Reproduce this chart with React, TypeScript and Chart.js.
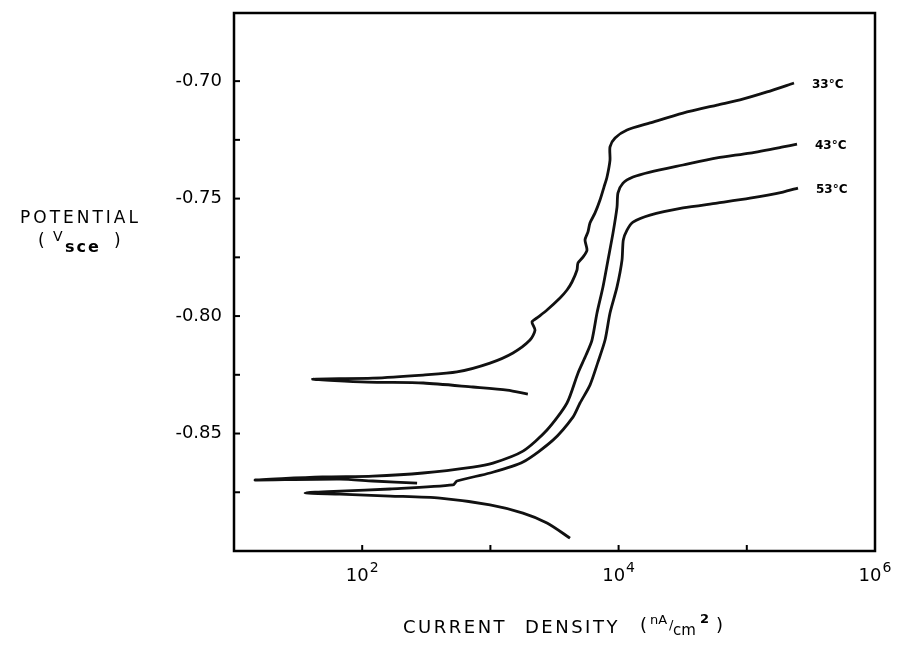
import React, { useEffect, useRef } from 'react';
import { Chart, registerables } from 'chart.js';

Chart.register(...registerables);

// Current density (nA/cm^2) and potential (V vs SCE):
// cathodic branch end -> corrosion tip -> anodic branch end
const current33 = [1960, 1350, 730, 300, 110, 41, 121, 298, 548, 993, 1500, 2037, 2229, 2111, 2310, 2764, 3491, 3958, 4330, 4737, 4819, 5272, 5670, 5470, 5770, 5980, 6550, 7160, 7690, 8120, 8570, 8570, 9380, 11630, 17580, 31770, 58550, 88500, 143800, 233400];
const potential33 = [-0.8332, -0.8315, -0.8302, -0.8285, -0.8281, -0.8268, -0.8264, -0.8251, -0.8238, -0.82, -0.8157, -0.8102, -0.806, -0.8025, -0.8008, -0.7974, -0.7923, -0.7889, -0.7855, -0.7804, -0.7774, -0.7749, -0.7719, -0.7676, -0.7642, -0.7604, -0.7561, -0.7506, -0.7451, -0.7408, -0.7336, -0.728, -0.7242, -0.7208, -0.7178, -0.7136, -0.7102, -0.708, -0.7046, -0.7008];

const current43 = [268, 121, 67, 14.6, 49, 121, 298, 731, 1047, 1795, 2764, 3958, 4819, 5570, 6200, 6785, 7550, 8260, 9040, 9720, 9890, 10820, 12950, 17580, 31770, 58550, 105900, 191500, 246400];
const potential43 = [-0.8711, -0.8702, -0.8694, -0.8698, -0.8685, -0.8681, -0.8668, -0.8643, -0.8626, -0.8575, -0.8485, -0.837, -0.8243, -0.8166, -0.8102, -0.7987, -0.7876, -0.7762, -0.7647, -0.7536, -0.7476, -0.7434, -0.7408, -0.7387, -0.7357, -0.7327, -0.7306, -0.728, -0.7268];

const current53 = [4180, 2764, 1795, 993, 404, 165, 67, 35.8, 67, 165, 511, 548, 993, 1795, 3076, 4405, 5000, 5980, 6900, 7840, 8570, 9720, 10630, 10880, 11630, 12950, 17580, 31770, 58550, 105900, 191500, 250800];
const potential53 = [-0.8945, -0.8881, -0.8839, -0.8804, -0.8775, -0.8766, -0.8758, -0.8753, -0.8745, -0.8736, -0.8719, -0.8702, -0.8668, -0.8621, -0.8528, -0.843, -0.837, -0.8294, -0.8196, -0.8102, -0.7987, -0.7876, -0.7762, -0.7676, -0.7634, -0.76, -0.757, -0.754, -0.7519, -0.7498, -0.7472, -0.7455];

const seriesLabels = ['33°C', '43°C', '53°C'];

const xLabelTicks = [1e2, 1e4, 1e6];
const xLabelBase = '10';
const xLabelExp = ['2', '4', '6'];
const xMarkTicks = [1e2, 1e3, 1e4, 1e5];
const yLabelTicks = [-0.85, -0.8, -0.75, -0.7];
const yMarkTicks = [-0.875, -0.85, -0.825, -0.8, -0.775, -0.75, -0.725, -0.7];

const FONT = '"DejaVu Sans", sans-serif';

const toPoints = (xs: number[], ys: number[]) => xs.map((x, i) => ({ x, y: ys[i] }));

const framePlugin = {
  id: 'frameAndText',
  afterDraw(chart: any) {
    const { ctx, chartArea: a, scales } = chart;
    const xs = scales.x;
    const ys = scales.y;
    ctx.save();
    ctx.strokeStyle = '#000';
    ctx.fillStyle = '#000';
    ctx.lineWidth = 2.5;
    ctx.strokeRect(a.left, a.top, a.right - a.left, a.bottom - a.top);
    ctx.lineWidth = 2;
    yMarkTicks.forEach((v) => {
      const py = ys.getPixelForValue(v);
      ctx.beginPath();
      ctx.moveTo(a.left, py);
      ctx.lineTo(a.left + 6, py);
      ctx.stroke();
    });
    xMarkTicks.forEach((v) => {
      const px = xs.getPixelForValue(v);
      ctx.beginPath();
      ctx.moveTo(px, a.bottom);
      ctx.lineTo(px, a.bottom - 6);
      ctx.stroke();
    });

    // x tick labels: 10 with a raised exponent
    ctx.textBaseline = 'alphabetic';
    ctx.textAlign = 'left';
    xLabelTicks.forEach((v, i) => {
      const px = xs.getPixelForValue(v);
      ctx.font = `18px ${FONT}`;
      const wb = ctx.measureText(xLabelBase).width;
      ctx.font = `14px ${FONT}`;
      const we = ctx.measureText(xLabelExp[i]).width;
      const start = px - (wb + we + 1) / 2;
      ctx.font = `18px ${FONT}`;
      ctx.fillText(xLabelBase, start, a.bottom + 30);
      ctx.font = `14px ${FONT}`;
      ctx.fillText(xLabelExp[i], start + wb + 1, a.bottom + 21);
    });

    // curve labels at the anodic ends
    ctx.font = `bold 12px ${FONT}`;
    ctx.textBaseline = 'middle';
    ctx.textAlign = 'left';
    chart.data.datasets.forEach((ds: any, i: number) => {
      const last = ds.data[ds.data.length - 1];
      const px = xs.getPixelForValue(last.x) + 18;
      const py = ys.getPixelForValue(last.y) + 2;
      ctx.fillText(seriesLabels[i], px, py);
    });

    // y axis title (horizontal, with subscript)
    (ctx as any).letterSpacing = '3px';
    ctx.font = `17px ${FONT}`;
    ctx.fillText('POTENTIAL', 20, 219);
    (ctx as any).letterSpacing = '0px';
    ctx.fillText('(', 38, 242);
    ctx.font = `14px ${FONT}`;
    ctx.fillText('V', 53, 237);
    (ctx as any).letterSpacing = '2px';
    ctx.font = `bold 16px ${FONT}`;
    ctx.fillText('sce', 65, 248);
    (ctx as any).letterSpacing = '0px';
    ctx.font = `17px ${FONT}`;
    ctx.fillText(')', 114, 242);

    // x axis title
    (ctx as any).letterSpacing = '2.5px';
    ctx.font = `18px ${FONT}`;
    ctx.fillText('CURRENT', 403, 628);
    ctx.fillText('DENSITY', 525, 628);
    (ctx as any).letterSpacing = '0px';
    ctx.fillText('(', 640, 626);
    ctx.font = `13px ${FONT}`;
    ctx.fillText('nA', 650, 621);
    ctx.fillText('/', 669, 626);
    ctx.font = `15px ${FONT}`;
    ctx.fillText('cm', 673, 631);
    ctx.font = `bold 13px ${FONT}`;
    ctx.fillText('2', 700, 620);
    ctx.font = `18px ${FONT}`;
    ctx.fillText(')', 716, 626);
    ctx.restore();
  },
};

export default function App() {
  const ref = useRef<HTMLCanvasElement | null>(null);

  useEffect(() => {
    if (!ref.current) return;
    const line = (xs: number[], ys: number[]) => ({
      data: toPoints(xs, ys),
      showLine: true,
      borderColor: '#111',
      backgroundColor: '#111',
      borderWidth: 2.8,
      pointRadius: 0,
      tension: 0.25,
      fill: false,
    });
    const chart = new Chart(ref.current, {
      type: 'scatter',
      data: {
        datasets: [line(current33, potential33), line(current43, potential43), line(current53, potential53)],
      },
      options: {
        responsive: false,
        animation: false,
        events: [],
        layout: { padding: { top: 13, right: 22, left: 0, bottom: 0 } },
        plugins: { legend: { display: false }, tooltip: { enabled: false } },
        scales: {
          x: {
            type: 'logarithmic',
            min: 10,
            max: 1e6,
            border: { display: false },
            grid: { display: false, drawTicks: false, tickLength: 0 },
            afterBuildTicks: (axis: any) => {
              axis.ticks = xLabelTicks.map((v) => ({ value: v }));
            },
            afterFit: (axis: any) => {
              axis.height = 115;
              axis.paddingLeft = 0;
              axis.paddingRight = 0;
            },
            ticks: { display: false },
          },
          y: {
            type: 'linear',
            min: -0.9,
            max: -0.671,
            border: { display: false },
            grid: { display: false, drawTicks: false, tickLength: 0 },
            afterBuildTicks: (axis: any) => {
              axis.ticks = yLabelTicks.map((v) => ({ value: v }));
            },
            afterFit: (axis: any) => {
              axis.width = 234;
              axis.paddingTop = 0;
              axis.paddingBottom = 0;
            },
            ticks: {
              autoSkip: false,
              padding: 12,
              color: '#000',
              font: { family: FONT, size: 18 },
              callback: (v: any) => Number(v).toFixed(2),
            },
          },
        },
      },
      plugins: [framePlugin],
    });
    return () => chart.destroy();
  }, []);

  return (
    <div style={{ position: 'absolute', left: 0, top: 0, width: 897, height: 666, background: '#fff' }}>
      <canvas ref={ref} width={897} height={666} style={{ display: 'block' }} />
    </div>
  );
}
